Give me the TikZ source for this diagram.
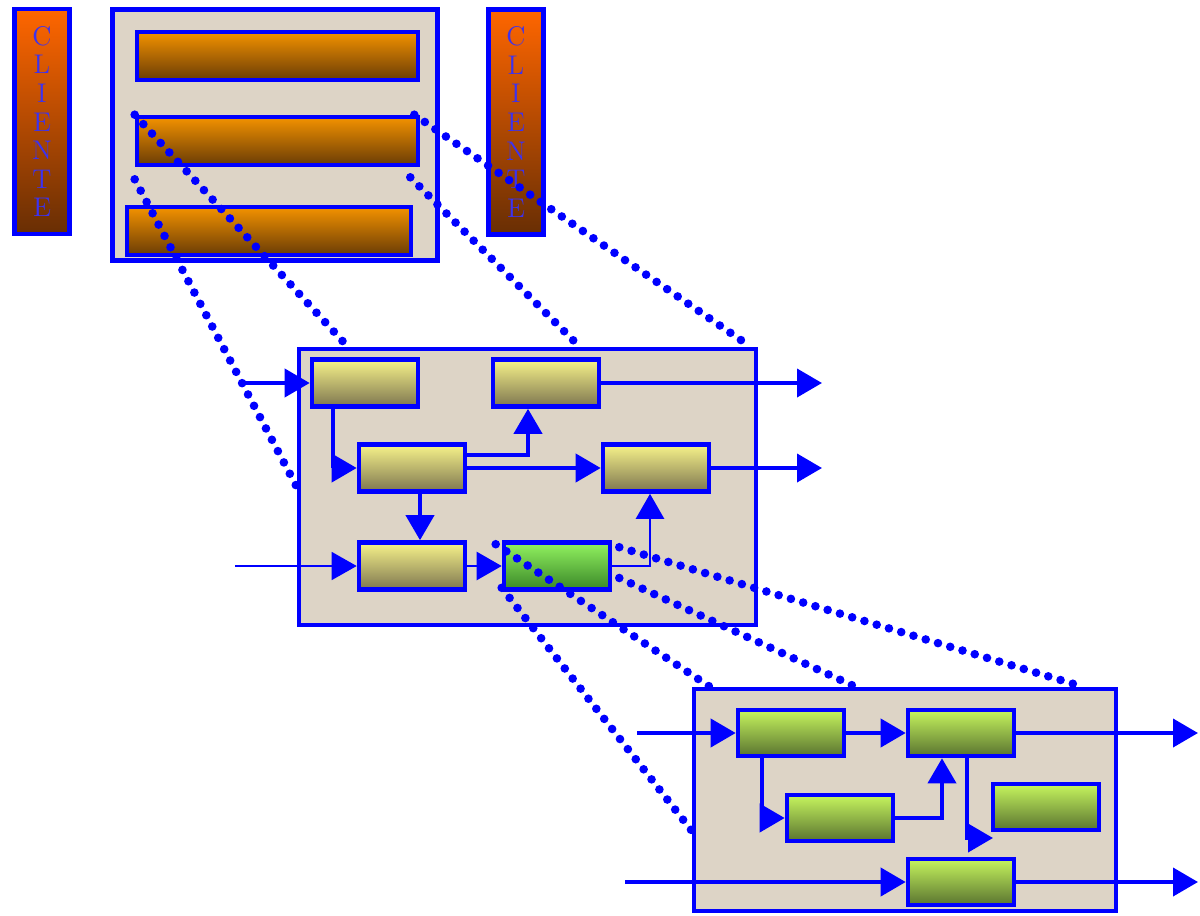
\documentclass[tikz,border=0pt]{standalone}
\usetikzlibrary{arrows.meta}

\definecolor{linkblue}{RGB}{0,0,255}
\definecolor{letterblue}{RGB}{60,50,240}
\definecolor{granite}{RGB}{221,212,198}
\definecolor{clitop}{RGB}{255,102,0}
\definecolor{clibot}{RGB}{104,46,4}
\definecolor{bartop}{RGB}{243,146,0}
\definecolor{barbot}{RGB}{106,60,6}
\definecolor{proctop}{RGB}{247,243,138}
\definecolor{procbot}{RGB}{126,118,80}
\definecolor{acttop}{RGB}{146,242,96}
\definecolor{actbot}{RGB}{58,136,40}
\definecolor{subtop}{RGB}{198,245,94}
\definecolor{subbot}{RGB}{90,116,48}

\tikzset{
	frame/.style={draw=linkblue, line width=2.4pt, fill=granite, inner sep=0pt},
	cliente/.style={draw=linkblue, line width=2.3pt, top color=clitop, bottom color=clibot,
		minimum width=27.5pt, minimum height=112.5pt, inner sep=0pt, align=center,
		text=letterblue, font=\fontsize{13.5}{14.3}\selectfont},
	layer/.style={draw=linkblue, line width=2.3pt, top color=bartop, bottom color=barbot,
		minimum height=24pt, inner sep=0pt},
	proc/.style={draw=linkblue, line width=2.3pt, top color=proctop, bottom color=procbot,
		minimum width=53pt, minimum height=23.5pt, inner sep=0pt},
	act/.style={proc, top color=acttop, bottom color=actbot},
	subproc/.style={draw=linkblue, line width=2.3pt, top color=subtop, bottom color=subbot,
		minimum width=53pt, minimum height=23pt, inner sep=0pt},
	flow/.style={draw=linkblue, line width=2pt, -{Triangle[length=12.5pt,width=14pt]}},
	zoomline/.style={draw=linkblue, line width=4.3pt, line cap=round, dash pattern=on 0pt off 6.4pt},
}

\begin{document}
\begin{tikzpicture}[x=0.5pt, y=-0.5pt]
	\useasboundingbox (0,0) rectangle (1200,916);

	\node[cliente] (cliL) at (42,121.5) {C\\L\\I\\E\\N\\T\\E};
	\node[cliente] (cliR) at (516,122) {C\\L\\I\\E\\N\\T\\E};

	\node[frame, minimum width=162.5pt, minimum height=125.5pt] (tier) at (275,135) {};
	\node[layer, minimum width=140.5pt] (bar1) at (277.5,56) {};
	\node[layer, minimum width=140.5pt] (bar2) at (277.5,141) {};
	\node[layer, minimum width=142pt] (bar3) at (269,231) {};

	\node[frame, minimum width=228.5pt, minimum height=138pt] (mid) at (527.5,487) {};
	\node[proc] (pA) at (365,383) {};
	\node[proc] (pB) at (546,383) {};
	\node[proc] (pC) at (412,468) {};
	\node[proc] (pD) at (656,468) {};
	\node[proc] (pE) at (412,566) {};
	\node[act] (pF) at (557,566) {};

	\coordinate (in1) at (240,383);
	\coordinate (in2) at (235,566);
	\coordinate (out1) at (822,383);
	\coordinate (out2) at (822,468);

	\draw[flow] (in1) -- (pA.west);
	\draw[flow] ([xshift=11.5pt]pA.south west) |- (pC.west);
	\draw[flow] ([yshift=6.5pt]pC.east) -| ([xshift=-9pt]pB.south);
	\draw[flow] (pC.east) -- (pD.west);
	\draw[flow] ([xshift=4pt]pC.south) -- ([xshift=4pt]pE.north);
	\draw[flow, line width=0.7pt] (in2) -- (pE.west);
	\draw[flow, line width=1.2pt] (pE.east) -- (pF.west);
	\draw[flow, line width=1.3pt] (pF.east) -| ([xshift=-3pt]pD.south);
	\draw[flow] (pB.east) -- (out1);
	\draw[flow] (pD.east) -- (out2);

	\node[frame, minimum width=211pt, minimum height=111pt] (low) at (905,800) {};
	\node[subproc] (g1) at (791,733) {};
	\node[subproc] (g2) at (961,733) {};
	\node[subproc] (g3) at (840,818) {};
	\node[subproc] (g4) at (1046,807) {};
	\node[subproc] (g5) at (961,882) {};

	\coordinate (in3) at (637,733);
	\coordinate (in4) at (625,882);
	\coordinate (out3) at (1198,733);
	\coordinate (out4) at (1198,882);
	\coordinate (g4in) at (993,838);

	\draw[flow] (in3) -- (g1.west);
	\draw[flow] (g1.east) -- (g2.west);
	\draw[flow] (g2.east) -- (out3);
	\draw[flow] ([xshift=-14.5pt]g1.south) |- (g3.west);
	\draw[flow] (g3.east) -| ([xshift=-9.5pt]g2.south);
	\draw[flow] ([xshift=3pt]g2.south) |- (g4in);
	\draw[flow] (in4) -- (g5.west);
	\draw[flow] (g5.east) -- (out4);

	\draw[zoomline] (bar2.north west) -- ([xshift=25.5pt]mid.north west);
	\draw[zoomline] ([yshift=-6pt]bar2.south west) -- ([yshift=-70pt]mid.north west);
	\draw[zoomline] ([xshift=-3pt]bar2.north east) -- ([xshift=-4pt]mid.north east);
	\draw[zoomline] ([xshift=-5pt,yshift=-5pt]bar2.south east) -- ([xshift=26pt]mid.north);

	\draw[zoomline] ([xshift=-3pt,yshift=-2pt]pF.north west) -- ([xshift=9pt]low.north west);
	\draw[zoomline] ([yshift=2pt]pF.south west) -- ([yshift=-72pt]low.north west);
	\draw[zoomline] ([xshift=3.5pt,yshift=-3.5pt]pF.north east) -- ([xshift=-18pt]low.north east);
	\draw[zoomline] ([xshift=3.5pt,yshift=-6pt]pF.east) -- ([xshift=-25pt]low.north);
\end{tikzpicture}
\end{document}
